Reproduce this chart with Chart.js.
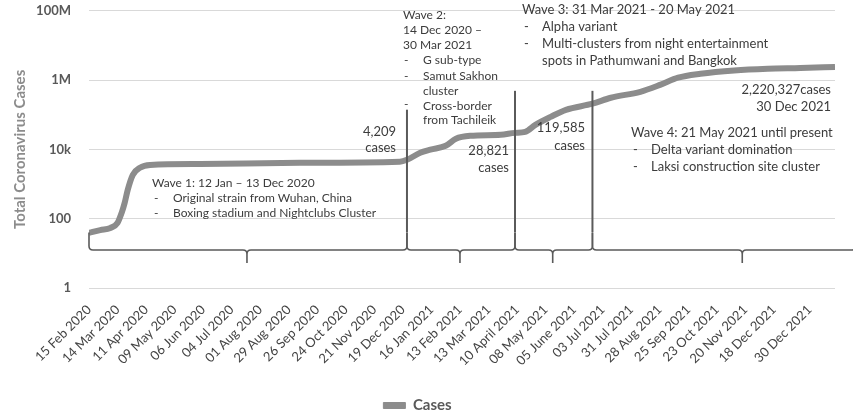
<!DOCTYPE html>
<html>
<head>
<meta charset="utf-8">
<script src="https://cdn.jsdelivr.net/npm/chart.js@4.4.1/dist/chart.umd.min.js"></script>
<style>
  html, body { margin: 0; padding: 0; background: #fff; }
  #wrap { width: 853px; height: 417px; position: relative; }
</style>
</head>
<body>
<div id="wrap"><canvas id="casesChart"></canvas></div>
<script>
// days since 15 Feb 2020
const days = [0, 11, 21, 28, 32, 35, 38, 43, 50, 60, 109, 207, 305, 312, 325, 335, 350, 360, 374, 404,
  418, 428, 438, 453, 468, 494, 512, 541, 561, 578, 600, 633, 666, 698, 732];
const cases = [39, 47, 54, 76, 147, 286, 680, 1850, 2950, 3560, 3800, 4100, 4400, 5000, 8000, 9800, 12700, 20300, 24700, 26500,
  30000, 32000, 51000, 87000, 139000, 208000, 309000, 460000, 740000, 1170000, 1520000, 1900000, 2130000, 2240000, 2400000];

const xTickDays = [0, 28, 56, 84, 112, 140, 168, 196, 224, 252, 280, 308, 336, 364, 392, 420, 448, 476, 504, 532,
  560, 588, 616, 644, 672, 707];
const xTickLabels = ['15 Feb 2020', '14 Mar 2020', '11 Apr 2020', '09 May 2020', '06 Jun 2020', '04 Jul 2020',
  '01 Aug 2020', '29 Aug 2020', '26 Sep 2020', '24 Oct 2020', '21 Nov 2020', '19 Dec 2020', '16 Jan 2021',
  '13 Feb 2021', '13 Mar 2021', '10 April 2021', '08 May 2021', '05 June 2021', '03 Jul 2021', '31 Jul 2021',
  '28 Aug 2021', '25 Sep 2021', '23 Oct 2021', '20 Nov 2021', '18 Dec 2021', '30 Dec 2021'];

const yTickValues = [1, 100, 10000, 1000000, 100000000];
const yTickLabels = ['1', '100', '10k', '1M', '100M'];

// wave boundaries (days), bracket tips, and how high the divider lines go
const waveEdges = [0, 312, 418, 494, 752];
const braceTipDays = [155, 364, 455, 641];
const dividerTops = [140000, 490000, 490000];

const textColor = '#3c3c3c';
const notes = [
  // [text, x, y, size, align]
  ['Wave 1: 12 Jan \u2013 13 Dec 2020', 152, 183, 12, 'left'],
  ['-', 154, 198, 12, 'left'], ['Original strain from Wuhan, China', 173, 198, 12, 'left'],
  ['-', 154, 213, 12, 'left'], ['Boxing stadium and Nightclubs Cluster', 173, 213, 12, 'left'],
  ['4,209', 396, 132, 13, 'right'], ['cases', 396, 148, 13, 'right'],
  ['Wave 2:', 403, 15, 12, 'left'],
  ['14 Dec 2020 \u2013', 403, 30, 12, 'left'],
  ['30 Mar 2021', 403, 45, 12, 'left'],
  ['-', 404, 60, 12, 'left'], ['G sub-type', 423, 60, 12, 'left'],
  ['-', 404, 76, 12, 'left'], ['Samut Sakhon', 423, 76, 12, 'left'],
  ['cluster', 423, 91, 12, 'left'],
  ['-', 404, 104, 12, 'left'], ['Cross-border', 423, 106, 12, 'left'],
  ['from Tachileik', 423, 120, 12, 'left'],
  ['Wave 3: 31 Mar 2021 - 20 May 2021', 522, 10, 13, 'left'],
  ['-', 524, 27, 13, 'left'], ['Alpha variant', 542, 27, 13, 'left'],
  ['-', 524, 44, 13, 'left'], ['Multi-clusters from night entertainment', 542, 44, 13, 'left'],
  ['spots in Pathumwani and Bangkok', 542, 61, 13, 'left'],
  ['28,821', 509, 151, 13, 'right'], ['cases', 509, 168, 13, 'right'],
  ['119,585', 585, 128, 13, 'right'], ['cases', 585, 146, 13, 'right'],
  ['2,220,327cases', 831, 90, 13, 'right'], ['30 Dec 2021', 831, 107, 13, 'right'],
  ['Wave 4: 21 May 2021 until present', 631, 133, 13, 'left'],
  ['-', 633, 150, 13, 'left'], ['Delta variant domination', 651, 150, 13, 'left'],
  ['-', 633, 167, 13, 'left'], ['Laksi construction site cluster', 651, 167, 13, 'left']
];

Chart.defaults.font.family = 'Lato, "Open Sans", sans-serif';

const wavePlugin = {
  id: 'waves',
  afterDatasetsDraw(chart) {
    const { ctx, scales: { x, y } } = chart;
    ctx.save();
    // divider lines
    ctx.strokeStyle = '#5a5a5a';
    ctx.lineWidth = 2;
    dividerTops.forEach((top, i) => {
      const px = x.getPixelForValue(waveEdges[i + 1]);
      ctx.beginPath();
      ctx.moveTo(px, y.getPixelForValue(top));
      ctx.lineTo(px, y.getPixelForValue(41));
      ctx.stroke();
    });
    // curly brackets under each wave
    const yb = y.getPixelForValue(12.5);
    const yTop = y.getPixelForValue(40);
    const yTip = y.getPixelForValue(5.3);
    const q = 4;
    ctx.lineWidth = 1.6;
    for (let i = 0; i < waveEdges.length - 1; i++) {
      const x1 = x.getPixelForValue(waveEdges[i]);
      const x2 = x.getPixelForValue(waveEdges[i + 1]);
      const xm = x.getPixelForValue(braceTipDays[i]);
      ctx.beginPath();
      ctx.moveTo(x1, yTop);
      ctx.lineTo(x1, yb - q);
      ctx.quadraticCurveTo(x1, yb, x1 + q, yb);
      ctx.lineTo(xm - q, yb);
      ctx.quadraticCurveTo(xm, yb, xm, yb + q);
      ctx.lineTo(xm, yTip);
      ctx.moveTo(xm, yb + q);
      ctx.quadraticCurveTo(xm, yb, xm + q, yb);
      ctx.lineTo(x2 - q, yb);
      ctx.quadraticCurveTo(x2, yb, x2, yb - q);
      ctx.lineTo(x2, yTop);
      ctx.stroke();
    }
    // notes
    ctx.fillStyle = textColor;
    ctx.textBaseline = 'middle';
    notes.forEach(([t, nx, ny, size, align]) => {
      ctx.font = size + 'px Lato, "Open Sans", sans-serif';
      ctx.textAlign = align;
      ctx.fillText(t, nx, ny);
    });
    ctx.restore();
  }
};

new Chart(document.getElementById('casesChart'), {
  type: 'line',
  data: {
    datasets: [{
      label: 'Cases',
      data: days.map((d, i) => ({ x: d, y: cases[i] })),
      borderColor: '#8c8c8c',
      backgroundColor: '#8c8c8c',
      borderWidth: 6,
      pointRadius: 0,
      cubicInterpolationMode: 'monotone'
    }]
  },
  options: {
    responsive: true,
    maintainAspectRatio: false,
    animation: false,
    layout: { padding: { top: 0, left: 0, right: 18, bottom: -6 } },
    scales: {
      x: {
        type: 'linear',
        min: 0,
        max: 732,
        afterBuildTicks: (scale) => { scale.ticks = xTickDays.map(v => ({ value: v })); },
        afterFit: (scale) => { scale.height = 108; },
        grid: { display: false, drawTicks: false },
        border: { display: false },
        ticks: {
          autoSkip: false,
          minRotation: 45,
          maxRotation: 45,
          padding: 14,
          color: '#444',
          font: { size: 13 },
          callback: (v) => xTickLabels[xTickDays.indexOf(v)]
        }
      },
      y: {
        type: 'logarithmic',
        min: 1,
        max: 100000000,
        afterBuildTicks: (scale) => { scale.ticks = yTickValues.map(v => ({ value: v })); },
        afterFit: (scale) => { scale.width = 89; },
        grid: { color: '#d9d9d9', drawTicks: true, tickLength: 15, tickColor: 'rgba(0,0,0,0)' },
        border: { display: false },
        ticks: {
          padding: 3,
          color: '#595959',
          font: { size: 13, weight: 'bold' },
          callback: (v) => yTickLabels[yTickValues.indexOf(v)]
        },
        title: {
          display: true,
          text: 'Total Coronavirus Cases',
          color: '#8c8c8c',
          font: { size: 15, weight: 'bold' },
          padding: { top: 11, bottom: 0 }
        }
      }
    },
    plugins: {
      legend: {
        position: 'bottom',
        labels: {
          boxWidth: 22,
          boxHeight: 6,
          padding: 2,
          color: '#595959',
          font: { size: 15, weight: 'bold' },
          generateLabels: (chart) => Chart.defaults.plugins.legend.labels.generateLabels(chart)
            .map(l => ({ ...l, lineWidth: 1, strokeStyle: '#8c8c8c', fillStyle: '#8c8c8c' }))
        }
      },
      tooltip: { enabled: false }
    }
  },
  plugins: [wavePlugin]
});
</script>
</body>
</html>
